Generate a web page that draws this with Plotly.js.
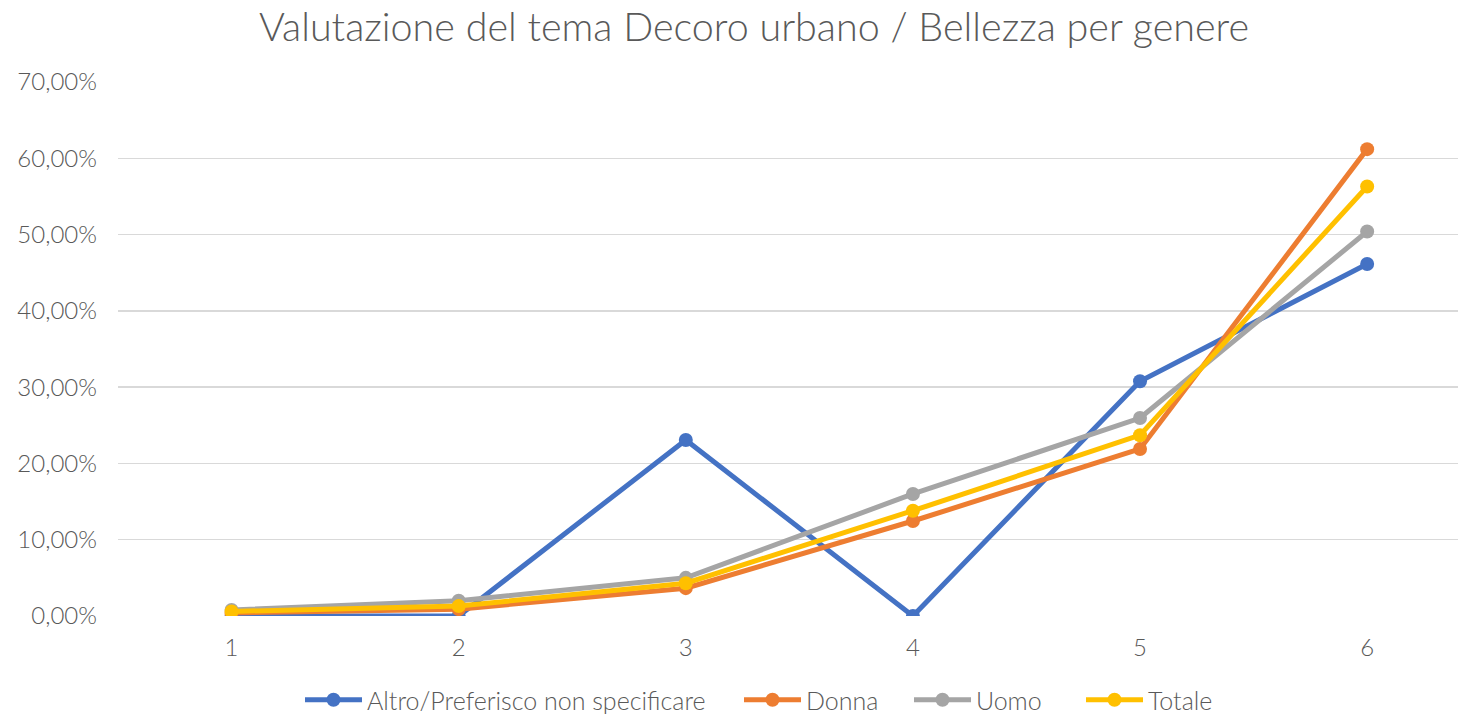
<!DOCTYPE html>
<html>
<head>
<meta charset="utf-8">
<script src="https://cdn.plot.ly/plotly-3.0.1.min.js"></script>
<style>html,body{margin:0;padding:0;background:#fff;}#chart{width:1458px;height:714px;}</style>
</head>
<body>
<div id="chart"></div>
<script>
const categories = ['1', '2', '3', '4', '5', '6'];
const altro = [0.0, 0.0, 0.2308, 0.0, 0.3077, 0.4615];
const donna = [0.004, 0.009, 0.0365, 0.1245, 0.219, 0.612];
const uomo = [0.008, 0.020, 0.050, 0.160, 0.2595, 0.504];
const totale = [0.006, 0.013, 0.043, 0.138, 0.237, 0.563];
const seriesNames = ['Altro/Preferisco non specificare', 'Donna', 'Uomo', 'Totale'];
const seriesColors = ['#4472C4', '#ED7D31', '#A5A5A5', '#FFC000'];
const seriesValues = [altro, donna, uomo, totale];
const yTicks = [0, 0.1, 0.2, 0.3, 0.4, 0.5, 0.6, 0.7];

const FONT = 'Lato, "Open Sans", sans-serif';
const legendIds = ['legend', 'legend2', 'legend3', 'legend4'];
const legendX = [300, 739, 909, 1081];

const traces = seriesValues.map((vals, i) => ({
  type: 'scatter',
  mode: 'lines+markers',
  name: seriesNames[i],
  legend: legendIds[i],
  x: categories.map(Number),
  y: vals,
  line: {color: seriesColors[i], width: 5},
  marker: {color: seriesColors[i], size: 14}
}));

const layout = {
  width: 1458, height: 714,
  paper_bgcolor: '#fff', plot_bgcolor: '#fff',
  separators: ',.',
  font: {family: FONT, color: '#595959', size: 24, weight: 300},
  margin: {l: 118, r: 0, t: 82, b: 98},
  title: {text: 'Valutazione del tema Decoro urbano / Bellezza per genere',
          font: {family: FONT, size: 39.5, color: '#595959', weight: 300},
          x: 754/1458, xanchor: 'center', xref: 'container', y: 1 - 27/714, yanchor: 'middle', yref: 'container'},
  xaxis: {
    range: [0.5, 6.4], tickvals: categories.map(Number), ticktext: categories,
    showgrid: false, zeroline: false, showline: false, ticks: '',
    ticklabelstandoff: 15, tickfont: {size: 24, color: '#595959', weight: 300}, fixedrange: true
  },
  yaxis: {
    range: [0, 0.7], tickvals: yTicks, tickformat: '.2%',
    showgrid: true, gridcolor: '#D9D9D9', gridwidth: 1.5, zeroline: false, showline: false,
    ticks: '', ticklabelstandoff: 20, tickfont: {size: 24, color: '#595959', weight: 300}
  },
  showlegend: true
};
legendIds.forEach((id, i) => {
  layout[id] = {orientation: 'h', xref: 'container', yref: 'container',
    x: legendX[i] / 1458, xanchor: 'left', y: 1 - 700/714, yanchor: 'middle',
    font: {size: 25, color: '#595959', weight: 300}, itemwidth: 57, bgcolor: 'rgba(0,0,0,0)'};
});
Plotly.newPlot('chart', traces, layout, {displayModeBar: false, staticPlot: true});
</script>
</body>
</html>
